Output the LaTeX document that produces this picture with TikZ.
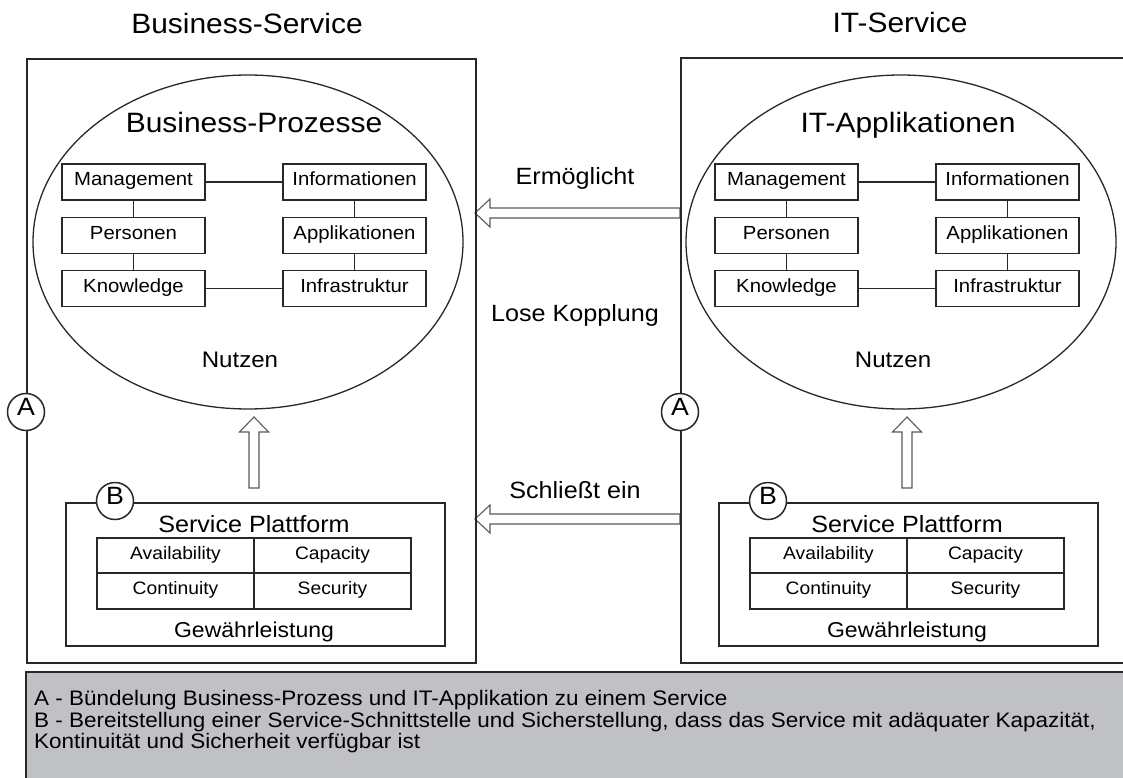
\documentclass[tikz,border=0pt]{standalone}
\usepackage{fontspec}
\setmainfont[FakeStretch=1.07]{Liberation Sans}
\usetikzlibrary{shapes.geometric}
\definecolor{linec}{RGB}{40,40,40}
\definecolor{graybg}{RGB}{192,193,196}
\definecolor{arrowc}{RGB}{90,90,90}
\tikzset{
  frame/.style={draw=linec, line width=1.7pt, inner sep=0pt},
  item/.style={draw=linec, line width=1.7pt, minimum width=143pt, minimum height=36pt,
    inner sep=0pt, text height=0.72em, text depth=0pt, font=\fontsize{19}{20}\selectfont},
  cell/.style={draw=linec, line width=1.7pt, minimum width=157pt, minimum height=35.5pt,
    inner sep=0pt, text height=0.72em, text depth=0pt, font=\fontsize{18}{19}\selectfont},
  link/.style={draw=linec, line width=1.7pt},
  circ/.style={circle, draw=linec, line width=1.5pt, fill=white, minimum size=37pt,
    inner sep=0pt, text height=0.72em, text depth=0pt, font=\fontsize{25}{25}\selectfont},
  oval/.style={ellipse, draw=linec, line width=1.3pt, minimum width=430pt,
    minimum height=334pt, inner sep=0pt},
  blockarrow/.style={draw=arrowc, line width=1.1pt, fill=white, line join=miter},
  lbl/.style={anchor=base, inner sep=0pt},
}
\begin{document}
\begin{tikzpicture}[x=1pt,y=-1pt]
\clip (0,0) rectangle (1123,778);
\fill[white] (0,0) rectangle (1123,778);

% middle block arrows (drawn first, box edges go over their ends)
\draw[blockarrow] (475,213) -- (490,199) -- (490,208) -- (680,208) -- (680,218) -- (490,218) -- (490,227) -- cycle;
\draw[blockarrow] (475,519) -- (490,505) -- (490,514) -- (680,514) -- (680,524) -- (490,524) -- (490,533) -- cycle;

% titles
\node[lbl, font=\fontsize{28}{28}\selectfont] (tL) at (247,34) {Business-Service};
\node[lbl, font=\fontsize{28}{28}\selectfont] (tR) at (900,33) {IT-Service};

% outer boxes
\node[frame, minimum width=449pt, minimum height=604pt, anchor=north west] (boxL) at (26,58) {};
\node[frame, minimum width=500pt, minimum height=605pt, anchor=north west] (boxR) at (680,57) {};

% gray legend
\fill[graybg] (26,672) rectangle (1140,800);
\draw[link] (26,800) -- (26,672) -- (1140,672);
\node[anchor=base west, inner sep=0pt, font=\fontsize{21}{21}\selectfont] (leg1) at (34,705) {A - Bündelung Business-Prozess und IT-Applikation zu einem Service};
\node[anchor=base west, inner sep=0pt, font=\fontsize{21}{21}\selectfont] (leg2) at (34,727) {B - Bereitstellung einer Service-Schnittstelle und Sicherstellung, dass das Service mit adäquater Kapazität,};
\node[anchor=base west, inner sep=0pt, font=\fontsize{21}{21}\selectfont] (leg3) at (34,748) {Kontinuität und Sicherheit verfügbar ist};

% ---------- left side ----------
\node[oval] (ellL) at (248,242) {};
\node[lbl, font=\fontsize{28}{28}\selectfont] (bpL) at (254,133) {Business-Prozesse};
\node[lbl, font=\fontsize{22.5}{23}\selectfont] (nuL) at (240,367) {Nutzen};

\node[item] (mgL) at (133.5,182) {Management};
\node[item] (peL) at (133.5,235.5) {Personen};
\node[item] (knL) at (133.5,288.5) {Knowledge};
\node[item] (inL) at (354.5,182) {Informationen};
\node[item] (apL) at (354.5,235.5) {Applikationen};
\node[item] (isL) at (354.5,288.5) {Infrastruktur};
\draw[link] (mgL) -- (inL);
\draw[link] (mgL) -- (peL);
\draw[link] (peL) -- (knL);
\draw[link] (inL) -- (apL);
\draw[link] (apL) -- (isL);
\draw[link] (knL) -- (isL);

\node[frame, minimum width=379pt, minimum height=143pt, anchor=north west] (spL) at (65,502) {};
\node[lbl, font=\fontsize{23.5}{24}\selectfont] (sptL) at (254,532) {Service Plattform};
\node[cell] (avL) at (175.5,555.5) {Availability};
\node[cell] (caL) at (332.5,555.5) {Capacity};
\node[cell] (coL) at (175.5,591) {Continuity};
\node[cell] (seL) at (332.5,591) {Security};
\node[lbl, font=\fontsize{21.5}{22}\selectfont] (gwL) at (254,637) {Gewährleistung};

\draw[blockarrow] (254,417) -- (268.5,432) -- (259,432) -- (259,488) -- (249,488) -- (249,432) -- (239.5,432) -- cycle;

\node[circ] (aL) at (26,412) {A};
\node[circ] (bL) at (115,501) {B};

% ---------- right side ----------
\node[oval] (ellR) at (901,242) {};
\node[lbl, font=\fontsize{28}{28}\selectfont] (bpR) at (908,133) {IT-Applikationen};
\node[lbl, font=\fontsize{22.5}{23}\selectfont] (nuR) at (893,367) {Nutzen};

\node[item] (mgR) at (786.5,182) {Management};
\node[item] (peR) at (786.5,235.5) {Personen};
\node[item] (knR) at (786.5,288.5) {Knowledge};
\node[item] (inR) at (1007.5,182) {Informationen};
\node[item] (apR) at (1007.5,235.5) {Applikationen};
\node[item] (isR) at (1007.5,288.5) {Infrastruktur};
\draw[link] (mgR) -- (inR);
\draw[link] (mgR) -- (peR);
\draw[link] (peR) -- (knR);
\draw[link] (inR) -- (apR);
\draw[link] (apR) -- (isR);
\draw[link] (knR) -- (isR);

\node[frame, minimum width=379pt, minimum height=143pt, anchor=north west] (spR) at (718,502) {};
\node[lbl, font=\fontsize{23.5}{24}\selectfont] (sptR) at (907,532) {Service Plattform};
\node[cell] (avR) at (828.5,555.5) {Availability};
\node[cell] (caR) at (985.5,555.5) {Capacity};
\node[cell] (coR) at (828.5,591) {Continuity};
\node[cell] (seR) at (985.5,591) {Security};
\node[lbl, font=\fontsize{21.5}{22}\selectfont] (gwR) at (907,637) {Gewährleistung};

\draw[blockarrow] (907,417) -- (921.5,432) -- (912,432) -- (912,488) -- (902,488) -- (902,432) -- (892.5,432) -- cycle;

% ---------- middle labels ----------
\node[lbl, font=\fontsize{23.5}{24}\selectfont] (erm) at (575,184) {Ermöglicht};
\node[lbl, font=\fontsize{23.5}{24}\selectfont] (lose) at (575,321) {Lose Kopplung};
\node[lbl, font=\fontsize{23.5}{24}\selectfont] (schl) at (575,498) {Schließt ein};

\node[circ] (aR) at (680,412) {A};
\node[circ] (bR) at (768,501) {B};
\end{tikzpicture}
\end{document}
